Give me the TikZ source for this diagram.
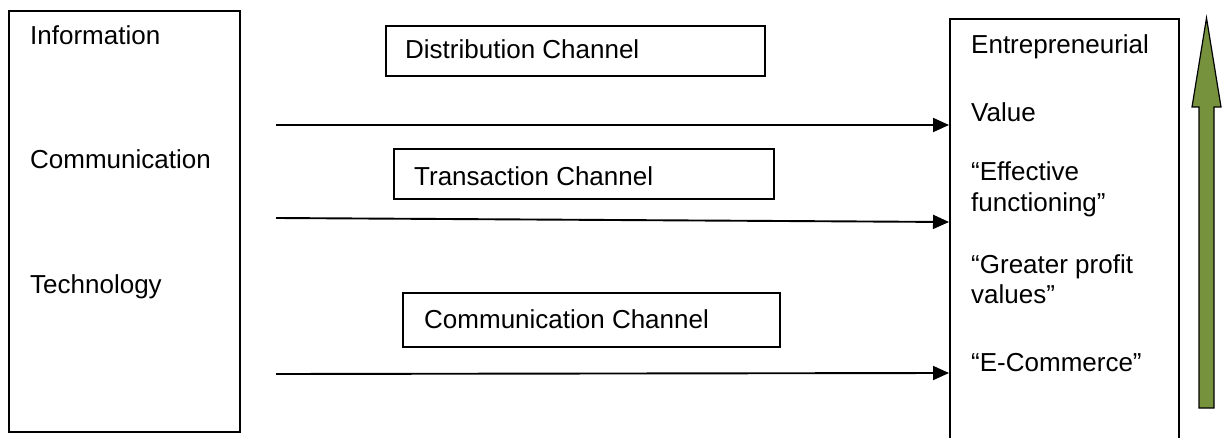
\documentclass[tikz,border=0pt]{standalone}
\usepackage{fontspec}
\setmainfont{Liberation Sans}
\usetikzlibrary{arrows.meta}
\definecolor{olivegreen}{RGB}{118,146,60}
\begin{document}
\begin{tikzpicture}[x=1pt,y=-1pt,
  every node/.style={font=\fontsize{26}{31}\selectfont},
  frame/.style={draw=black,line width=1.9pt,inner sep=0pt,anchor=north west},
  lbl/.style={anchor=base west,inner sep=0pt},
  flow/.style={line width=1.9pt,-{Triangle[length=16pt,width=14pt]}}]
\useasboundingbox (0,0) rectangle (1223,438);
\fill[white] (0,0) rectangle (1223,438);
% left box
\node[frame,minimum width=231,minimum height=421] (L) at (8,10) {};
\node[lbl] (t1) at (30,45) {Information};
\node[lbl] (t2) at (30,169) {Communication};
\node[lbl] (t3) at (30,294) {Technology};
% channel boxes
\node[frame,minimum width=379,minimum height=50] (c1) at (385,25) {};
\node[lbl] (c1t) at (405,59) {Distribution Channel};
\node[frame,minimum width=380,minimum height=50] (c2) at (393,148) {};
\node[lbl] (c2t) at (414,186) {Transaction Channel};
\node[frame,minimum width=377,minimum height=54] (c3) at (402,292) {};
\node[lbl] (c3t) at (424,328) {Communication Channel};
% right box
\node[frame,minimum width=229,minimum height=430] (R) at (949,18) {};
\node[lbl] (r1) at (971,54) {Entrepreneurial};
\node[lbl] (r2) at (971,122) {Value};
\node[lbl] (r3) at (971,181) {“Effective};
\node[lbl] (r4) at (971,212) {functioning”};
\node[lbl] (r5) at (971,274) {“Greater profit};
\node[lbl] (r6) at (971,304) {values”};
\node[lbl] (r7) at (971,371) {“E-Commerce”};
% arrows
\coordinate (a1) at (276,125);
\coordinate (a2) at (276,218);
\coordinate (a3) at (276,374);
\coordinate (b1) at (949,125);
\coordinate (b2) at (949,222);
\coordinate (b3) at (949,373);
\draw[flow] (a1) -- (b1);
\draw[flow] (a2) -- (b2);
\draw[flow] (a3) -- (b3);
% green up arrow
\draw[fill=olivegreen,draw=black,line width=1.2pt,line join=miter]
  (1206.5,18) -- (1221,107) -- (1214,107) -- (1214,408) -- (1199,408)
  -- (1199,107) -- (1192,107) -- cycle;
\end{tikzpicture}
\end{document}
